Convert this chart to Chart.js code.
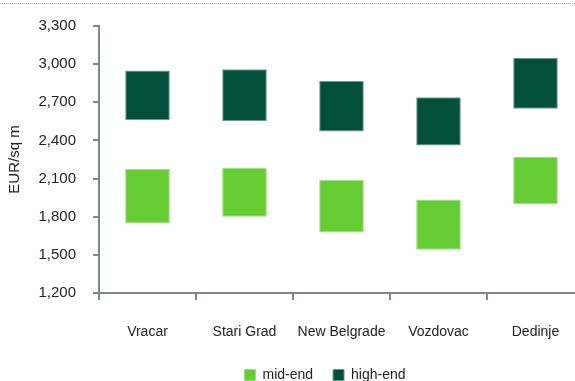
<!DOCTYPE html>
<html>
<head>
<meta charset="utf-8">
<script src="https://cdn.jsdelivr.net/npm/chart.js@4/dist/chart.umd.min.js"></script>
<style>
  html, body { margin: 0; padding: 0; background: #fff; overflow: hidden; }
  #wrap { position: relative; width: 650px; height: 381px; }
  #topline { position: absolute; left: 0; top: 3px; width: 575px; border-top: 1px dotted #aaa; }
</style>
</head>
<body>
<div id="wrap">
  <div id="topline"></div>
  <canvas id="graph"></canvas>
</div>
<script>
const districts = ['Vracar', 'Stari Grad', 'New Belgrade', 'Vozdovac', 'Dedinje'];
// fourchettes de prix [bas, haut] en EUR/m2
const midEnd = [[1750, 2175], [1800, 2185], [1675, 2090], [1540, 1935], [1900, 2270]];
const highEnd = [[2560, 2950], [2550, 2960], [2470, 2870], [2360, 2740], [2650, 3050]];
const yTicks = [1200, 1500, 1800, 2100, 2400, 2700, 3000, 3300];

const axisColor = '#7d878c';
const font = "'Liberation Sans', Arial, sans-serif";

// decale la legende vers la droite comme sur l'original
const legendShift = {
  id: 'legendShift',
  afterLayout(chart) {
    chart.legend.left += 30;
    chart.legend.right += 30;
  }
};

const ctx = document.getElementById('graph').getContext('2d');
new Chart(ctx, {
  type: 'bar',
  data: {
    labels: districts,
    datasets: [{
      label: 'mid-end',
      data: midEnd,
      backgroundColor: '#66cc33',
      borderColor: '#9be07a',
      borderWidth: 1,
      borderSkipped: false
    }, {
      label: 'high-end',
      data: highEnd,
      backgroundColor: '#02503a',
      borderColor: '#6f9a8c',
      borderWidth: 1,
      borderSkipped: false
    }]
  },
  plugins: [legendShift],
  options: {
    responsive: true,
    maintainAspectRatio: false,
    animation: false,
    layout: { padding: { left: 6, right: 66, top: 10, bottom: -11 } },
    datasets: { bar: { grouped: false, categoryPercentage: 1, barPercentage: 0.46 } },
    plugins: {
      legend: {
        position: 'bottom',
        labels: {
          boxWidth: 11, boxHeight: 11, padding: 20,
          color: '#222', font: { family: font, size: 14 }
        }
      },
      tooltip: { enabled: false }
    },
    scales: {
      x: {
        afterFit: s => { s.height = 55; },
        grid: { drawOnChartArea: false, color: axisColor, lineWidth: 2, tickLength: 7 },
        border: { color: axisColor, width: 2 },
        ticks: {
          color: '#222', font: { family: font, size: 14 }, padding: 24,
          maxRotation: 0, minRotation: 0, autoSkip: false
        }
      },
      y: {
        min: 1200, max: 3300,
        afterBuildTicks: s => { s.ticks = yTicks.map(v => ({ value: v })); },
        afterFit: s => { s.width = 93; },
        grid: { drawOnChartArea: false, color: axisColor, lineWidth: 2, tickLength: 6 },
        border: { color: axisColor, width: 2 },
        ticks: {
          color: '#222', font: { family: font, size: 15 }, padding: 17,
          callback: v => v.toLocaleString('en-US')
        },
        title: {
          display: true, text: 'EUR/sq m', color: '#222',
          font: { family: font, size: 15 }, padding: { top: 0, bottom: 0 }
        }
      }
    }
  }
});
</script>
</body>
</html>
